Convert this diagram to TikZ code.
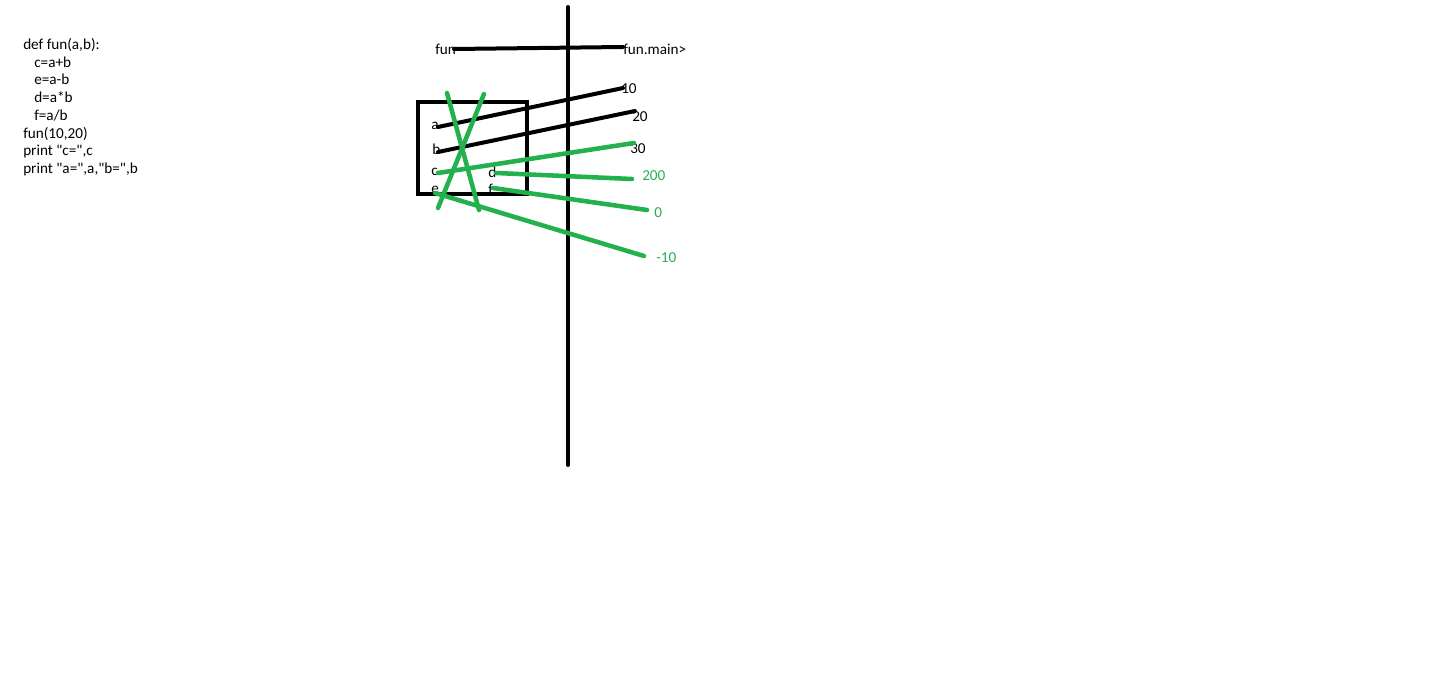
\documentclass[tikz,border=0pt]{standalone}
\usepackage{fontspec}
\setmainfont{Carlito}[Ligatures=TeXOff]
\usetikzlibrary{fit}
\definecolor{pgreen}{RGB}{34,177,76}
\begin{document}
\begin{tikzpicture}[x=0.75pt,y=-0.75pt,
  lbl/.style={inner sep=0pt,anchor=west,font=\fontsize{11.4pt}{13pt}\selectfont},
  glbl/.style={lbl,text=pgreen},
  blk/.style={line width=3pt,line cap=round,black},
  grn/.style={line width=3.4pt,line cap=round,pgreen},
  code/.style={inner sep=0pt,anchor=north west,align=left,font=\fontsize{11.4pt}{13.3pt}\selectfont}]
\useasboundingbox (0,0) rectangle (1432,688);
% code
\node[code] (code) at (23,38) {def fun(a,b):\\
\hspace*{8.25pt}c=a+b\\
\hspace*{8.25pt}e=a-b\\
\hspace*{8.25pt}d=a*b\\
\hspace*{8.25pt}f=a/b\\
fun(10,20)\\
print "c=",c\\
print "a=",a,"b=",b};
% labels
\node[lbl] (fun) at (435,49) {fun};
\node[lbl] (main) at (623,49) {fun.main>};
\node[lbl] (la) at (431,126) {a};
\node[lbl] (lb) at (432,149) {b};
\node[lbl] (lc) at (431,172) {c};
\node[lbl] (le) at (431,190) {e};
\node[lbl] (ld) at (488,172) {d};
\node[lbl] (lf) at (488,189) {f};
\node[lbl] (v10) at (621,89) {10};
\node[lbl] (v20) at (632,117) {20};
\node[lbl] (v30) at (630,149) {30};
\node[glbl] (v200) at (642,176) {200};
\node[glbl] (v0) at (654,213) {0};
\node[glbl] (vm10) at (656,258) {-10};
% coordinates
\coordinate (vt) at (568,7);
\coordinate (vb) at (568,465);
\coordinate (f1) at (454,49);
\coordinate (f2) at (623,47);
\coordinate (a1) at (438,127);
\coordinate (a2) at (623,88);
\coordinate (b1) at (438,152);
\coordinate (b2) at (635,111);
\coordinate (c1) at (438,173);
\coordinate (c2) at (634,143);
\coordinate (d1) at (496,173);
\coordinate (d2) at (632,179);
\coordinate (fl1) at (493,188);
\coordinate (fl2) at (647,210);
\coordinate (e1) at (435,193);
\coordinate (e2) at (644,256);
\coordinate (x1) at (447,93);
\coordinate (x2) at (479,210);
\coordinate (y1) at (484,94);
\coordinate (y2) at (438,208);
% box
\node[inner sep=0pt,draw,line width=3pt,fit={(418,102) (527,194)}] (box) {};
% black lines
\draw[blk] (vt) -- (vb);
\draw[blk] (f1) -- (f2);
\draw[blk] (a1) -- (a2);
\draw[blk] (b1) -- (b2);
% green lines
\draw[grn] (c1) -- (c2);
\draw[grn] (d1) -- (d2);
\draw[grn] (fl1) -- (fl2);
\draw[grn] (e1) -- (e2);
\draw[grn] (x1) -- (x2);
\draw[grn] (y1) -- (y2);
\end{tikzpicture}
\end{document}
